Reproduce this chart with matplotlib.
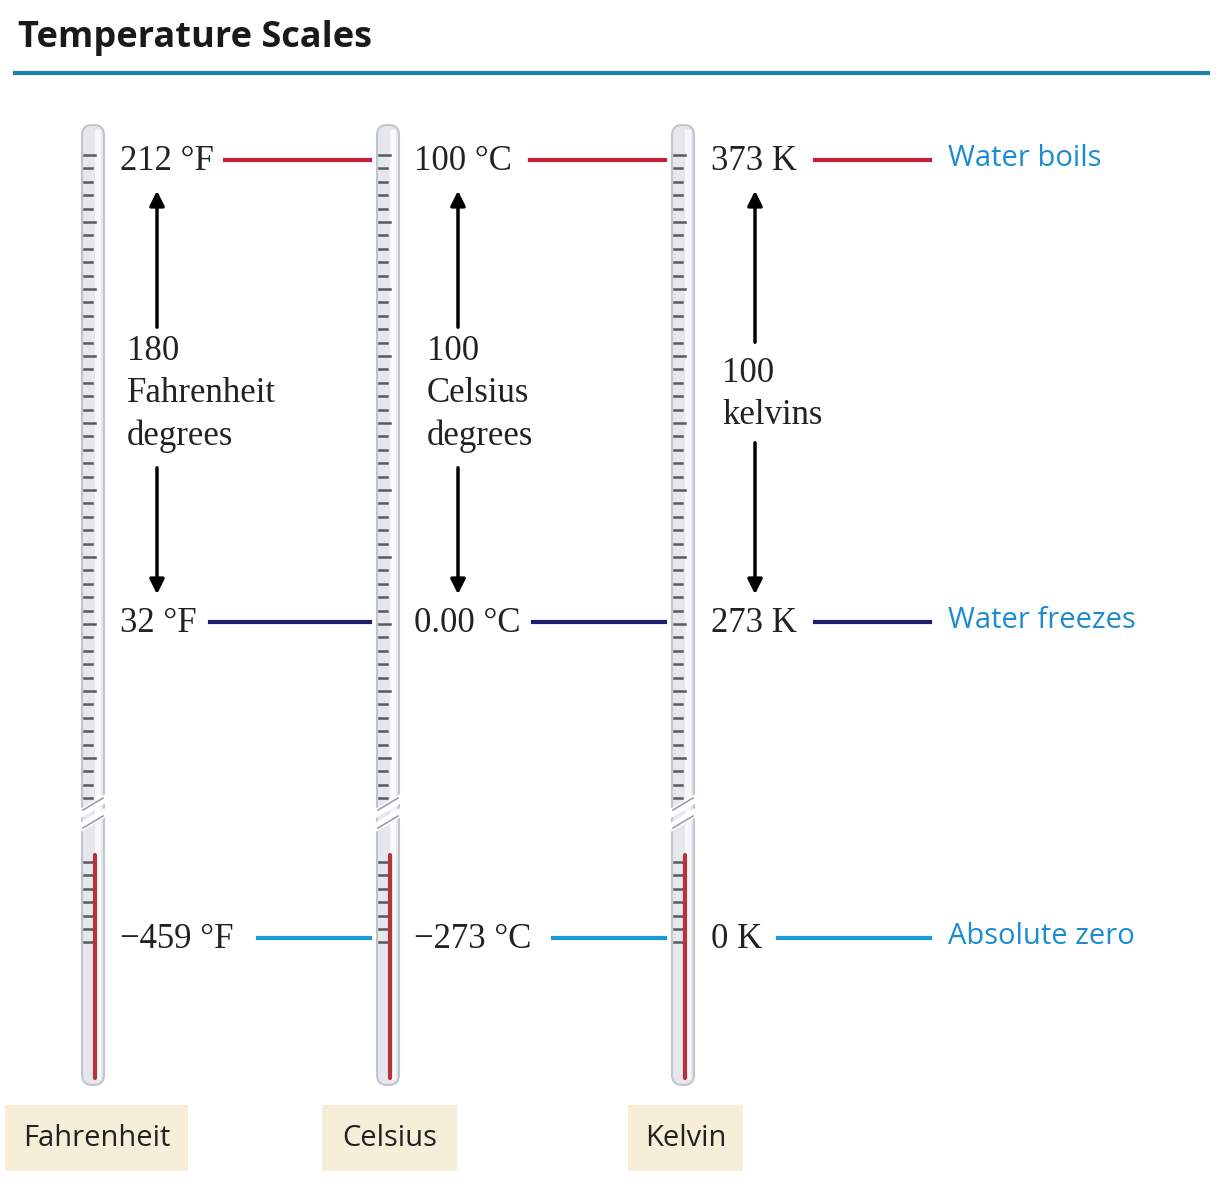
import matplotlib
matplotlib.use("Agg")
import matplotlib.pyplot as plt
from matplotlib.patches import FancyBboxPatch, Rectangle
import numpy as np

scales = ["Fahrenheit", "Celsius", "Kelvin"]
boils = ["212 °F", "100 °C", "373 K"]
freezes = ["32 °F", "0.00 °C", "273 K"]
abszero = ["\u2212459 °F", "\u2212273 °C", "0 K"]
intervals = [["180", "Fahrenheit", "degrees"], ["100", "Celsius", "degrees"], ["100", "kelvins"]]
events = ["Water boils", "Water freezes", "Absolute zero"]

fig = plt.figure(figsize=(12.32, 12.0), dpi=100)
ax = fig.add_axes([0, 0, 1, 1])
ax.set_xlim(0, 1232); ax.set_ylim(1200, 0); ax.axis("off")

ax.text(18, 38, "Temperature Scales", fontsize=26, fontweight="bold", family="Open Sans", va="center", color="#1a1a1a")
ax.plot([15, 1208], [73, 73], color="#1f7fb0", lw=3)

tx = [93, 388, 683]
ys = [160, 622, 938]
cols = ["#c8203a", "#1e1e6e", "#1a9ad6"]
line_x = [[(225, 370), (210, 370), (258, 370)],
          [(530, 665), (533, 665), (553, 665)],
          [(815, 930), (815, 930), (778, 930)]]
lbl_x = [120, 414, 711]
serif = "Liberation Serif"

for i, x in enumerate(tx):
    ax.add_patch(FancyBboxPatch((x - 11, 125), 22, 960, boxstyle="round,pad=0,rounding_size=10",
                                fc="#e4e7ec", ec="#c2c6cc", lw=1.5))
    ax.add_patch(Rectangle((x + 2, 130), 6, 950, fc="#f7f8fa", ec="none"))
    ax.plot([x - 10, x + 10], [812, 800], color="white", lw=6)
    ax.plot([x - 10, x + 10], [826, 814], color="white", lw=6)
    ax.plot([x - 10, x + 10], [810, 798], color="#9aa0a8", lw=1.2)
    ax.plot([x - 10, x + 10], [828, 816], color="#9aa0a8", lw=1.2)
    for k, ty in enumerate(np.arange(155, 800, 13.4)):
        ax.plot([x - 9, x - 1 if k % 5 else x + 2], [ty, ty], color="#555a60", lw=1.8)
    for k, ty in enumerate(np.arange(862, 945, 13.4)):
        ax.plot([x - 9, x + 1], [ty, ty], color="#555a60", lw=1.8)
    ax.plot([x + 2, x + 2], [855, 1078], color="#b8323a", lw=3, solid_capstyle="round")
    for j, (lab, y) in enumerate(zip([boils[i], freezes[i], abszero[i]], ys)):
        ax.text(lbl_x[i], y + 2, lab, fontsize=25, family=serif, va="center", color="#222")
        ax.plot(line_x[i][j], [y, y], color=cols[j], lw=3)
    ax_x = [157, 458, 755][i]
    lines = intervals[i]
    if len(lines) == 3:
        top_end, bot_start, ty0 = 330, 465, 352
    else:
        top_end, bot_start, ty0 = 345, 440, 373
    ax.annotate("", xy=(ax_x, 188), xytext=(ax_x, top_end),
                arrowprops=dict(arrowstyle="-|>", color="black", lw=2.5, mutation_scale=22))
    ax.annotate("", xy=(ax_x, 597), xytext=(ax_x, bot_start),
                arrowprops=dict(arrowstyle="-|>", color="black", lw=2.5, mutation_scale=22))
    tx0 = [127, 427, 722][i]
    for k, t in enumerate(lines):
        ax.text(tx0, ty0 + k * 42, t, fontsize=25, family=serif, va="center", color="#222")

for j, (ev, y) in enumerate(zip(events, ys)):
    ax.text(948, y - 2, ev, fontsize=21, family="Open Sans", va="center", color="#1a8ccf")

boxes = [(5, 188), (322, 457), (628, 743)]
for (x0, x1), s in zip(boxes, scales):
    ax.add_patch(Rectangle((x0, 1105), x1 - x0, 66, fc="#f6eed9", ec="none"))
    ax.text((x0 + x1) / 2, 1139, s, fontsize=21, family="Open Sans", ha="center", va="center", color="#222")

fig.savefig("out.png", dpi=100)
